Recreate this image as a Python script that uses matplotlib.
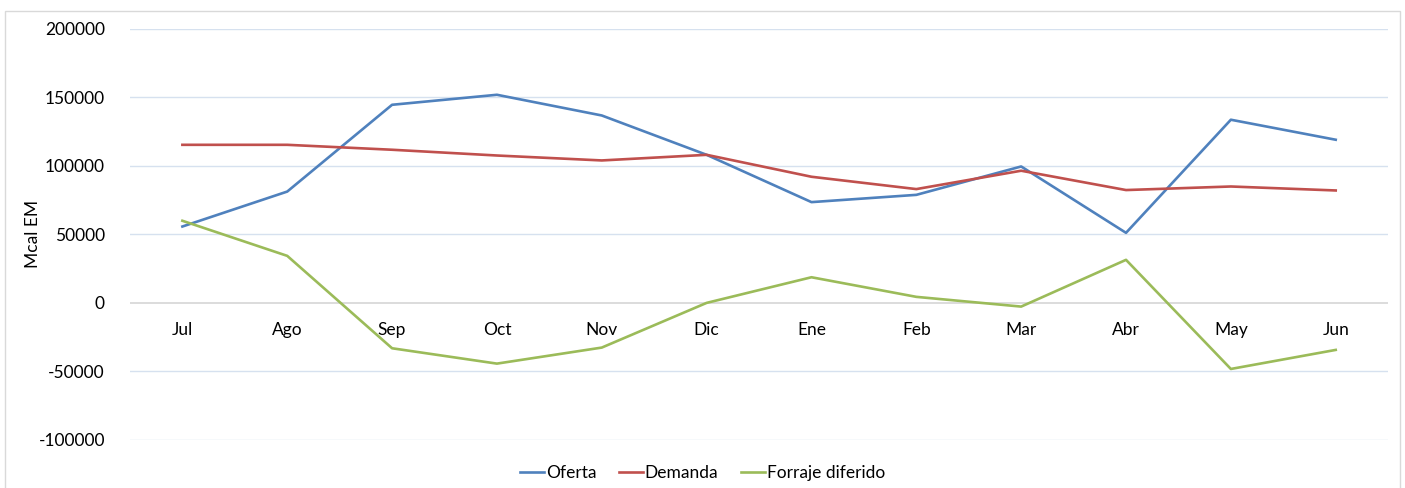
import matplotlib
matplotlib.use("Agg")
import matplotlib.pyplot as plt
from matplotlib.patches import Rectangle

plt.rcParams['font.family'] = ['Lato', 'DejaVu Sans']
plt.rcParams['axes.unicode_minus'] = False

months = ["Jul", "Ago", "Sep", "Oct", "Nov", "Dic", "Ene", "Feb", "Mar", "Abr", "May", "Jun"]
oferta = [55700, 81200, 144500, 151800, 136700, 108000, 73500, 78800, 99500, 51100, 133600, 119000]
demanda = [115300, 115300, 111700, 107500, 103900, 108000, 92000, 83000, 96400, 82300, 84900, 82000]
forraje = [59900, 34300, -33100, -44300, -32600, 0, 18700, 4400, -2700, 31400, -48200, -34300]

fig = plt.figure(figsize=(14.05, 4.88), dpi=100)
ax = fig.add_axes([0.0925, 0.0984, 0.8955, 0.8428])

# outer chart border
fig.patches.append(Rectangle((5 / 1405, -0.01), 1395 / 1405, 1 - 11 / 488 + 0.01,
                             transform=fig.transFigure, fill=False,
                             edgecolor="#d9d9d9", linewidth=1))

x = list(range(len(months)))
ax.plot(x, oferta, color="#4F81BD", lw=1.9, label="Oferta")
ax.plot(x, demanda, color="#C0504D", lw=1.9, label="Demanda")
ax.plot(x, forraje, color="#9BBB59", lw=1.9, label="Forraje diferido")

ax.set_xlim(-0.5, 11.5)
ax.set_ylim(-100000, 200000)
ax.set_yticks(range(-100000, 200001, 50000))
for v in range(-100000, 200001, 50000):
    ax.axhline(v, color="#d9d9d9" if v == 0 else "#d6e1ef", lw=1.3 if v == 0 else 1, zorder=0)

ax.set_xticks(x)
ax.set_xticklabels(months)
ax.spines['bottom'].set_position(('data', 0))
for s in ax.spines.values():
    s.set_visible(False)
ax.tick_params(axis='x', length=0, pad=14, labelsize=12.5, colors="black")
ax.tick_params(axis='y', length=0, pad=18, labelsize=12.5, colors="black")

ax.set_ylabel("Mcal EM", fontsize=12.5)
ax.yaxis.set_label_coords(-0.071, 0.5)

fig.legend(loc="lower center", bbox_to_anchor=(0.5, -0.018), ncol=3, frameon=False,
           fontsize=12.5, handlelength=1.4, handletextpad=0.1, columnspacing=1.3)

fig.savefig("out.png", dpi=100)
